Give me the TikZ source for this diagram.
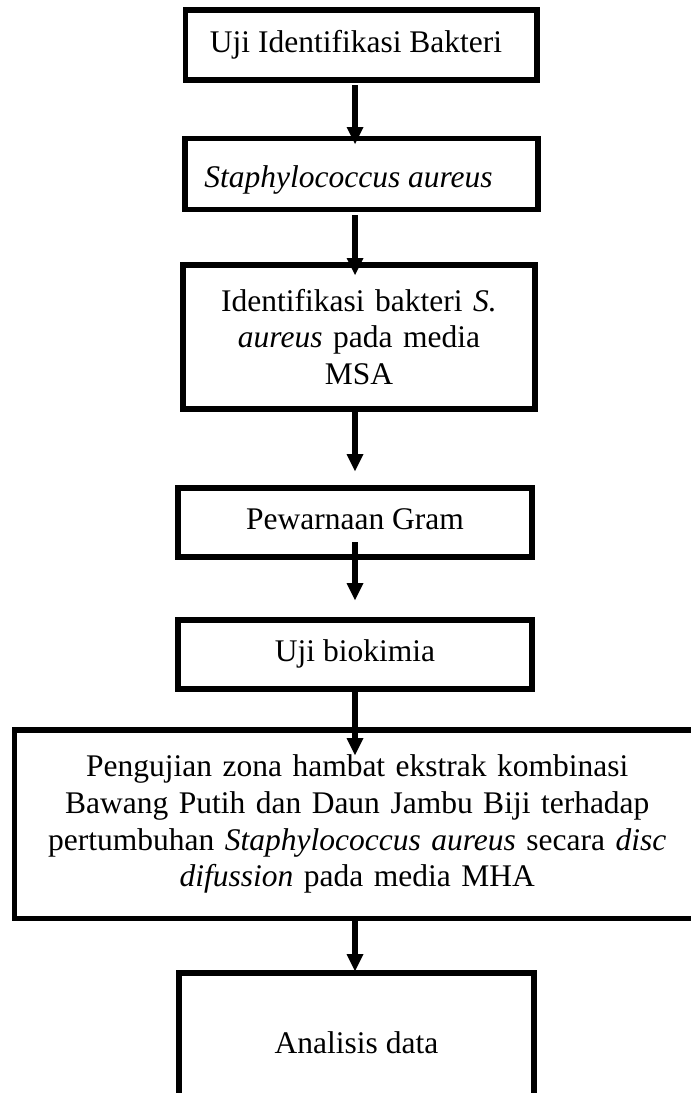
\documentclass[tikz,border=0pt]{standalone}
\usepackage{fontspec}
\setmainfont{Liberation Serif}
\usetikzlibrary{positioning,arrows.meta}
\tikzset{stage/.style={draw,line width=5.5pt,outer sep=0pt,inner sep=0pt,align=center,
    font=\fontsize{31.5pt}{36.7pt}\selectfont},
  oneline/.style={text height=21.5pt,text depth=6.8pt}}
\newcommand{\newStage}[4]{\node[stage,#3](#1) at #4 {#2};}
\newcommand{\newLink}[4]{\draw[->,shorten <=#3,shorten >=#4] (#1.south -| axis) -- (#2.north -| axis);}

\begin{document}
\begin{tikzpicture}[x=1pt,y=-1pt,
    line width=5.5pt,
    >={Triangle[width=17pt,length=17pt,line width=0pt]}
    ]
    \useasboundingbox (0,0) rectangle (691,1093);
    \coordinate (axis) at (355,0);
    \newStage{uji}{Uji Identifikasi Bakteri\hspace*{10.5pt}}{oneline,minimum width=351.5pt,minimum height=70pt}{(361.25,45)}
    \newStage{staph}{\textit{Staphylococcus aureus}\hspace*{26pt}}{oneline,text height=26pt,text depth=0pt,minimum width=353pt,minimum height=71pt}{(361.5,174)}
    \newStage{msa}{Identifikasi bakteri \textit{S.}\\ \textit{aureus} pada media\\ MSA}{text width=300pt,minimum width=352pt,minimum height=144pt}{(359,337)}
    \newStage{gram}{Pewarnaan Gram}{oneline,minimum width=354pt,minimum height=69pt}{(355,522.5)}
    \newStage{biokimia}{Uji biokimia}{oneline,minimum width=354pt,minimum height=69pt}{(355,654.5)}
    \newStage{zona}{Pengujian zona hambat ekstrak kombinasi\\ Bawang Putih dan Daun Jambu Biji terhadap\\ pertumbuhan \textit{Staphylococcus aureus} secara \textit{disc}\\ \textit{difussion} pada media MHA}{text width=660pt,minimum width=685.5pt,minimum height=188.5pt}{(357.25,824.25)}
    \newStage{analisis}{Analisis data}{oneline,minimum width=355pt,minimum height=145.3pt}{(356.5,1045.65)}
    \newLink{uji}{staph}{5pt}{-5.5pt}
    \newLink{staph}{msa}{5.5pt}{-10pt}
    \newLink{msa}{gram}{3pt}{17pt}
    \newLink{gram}{biokimia}{-15pt}{20pt}
    \newLink{biokimia}{zona}{3pt}{-25pt}
    \newLink{zona}{analisis}{2.5pt}{2pt}
  \end{tikzpicture}
\end{document}
